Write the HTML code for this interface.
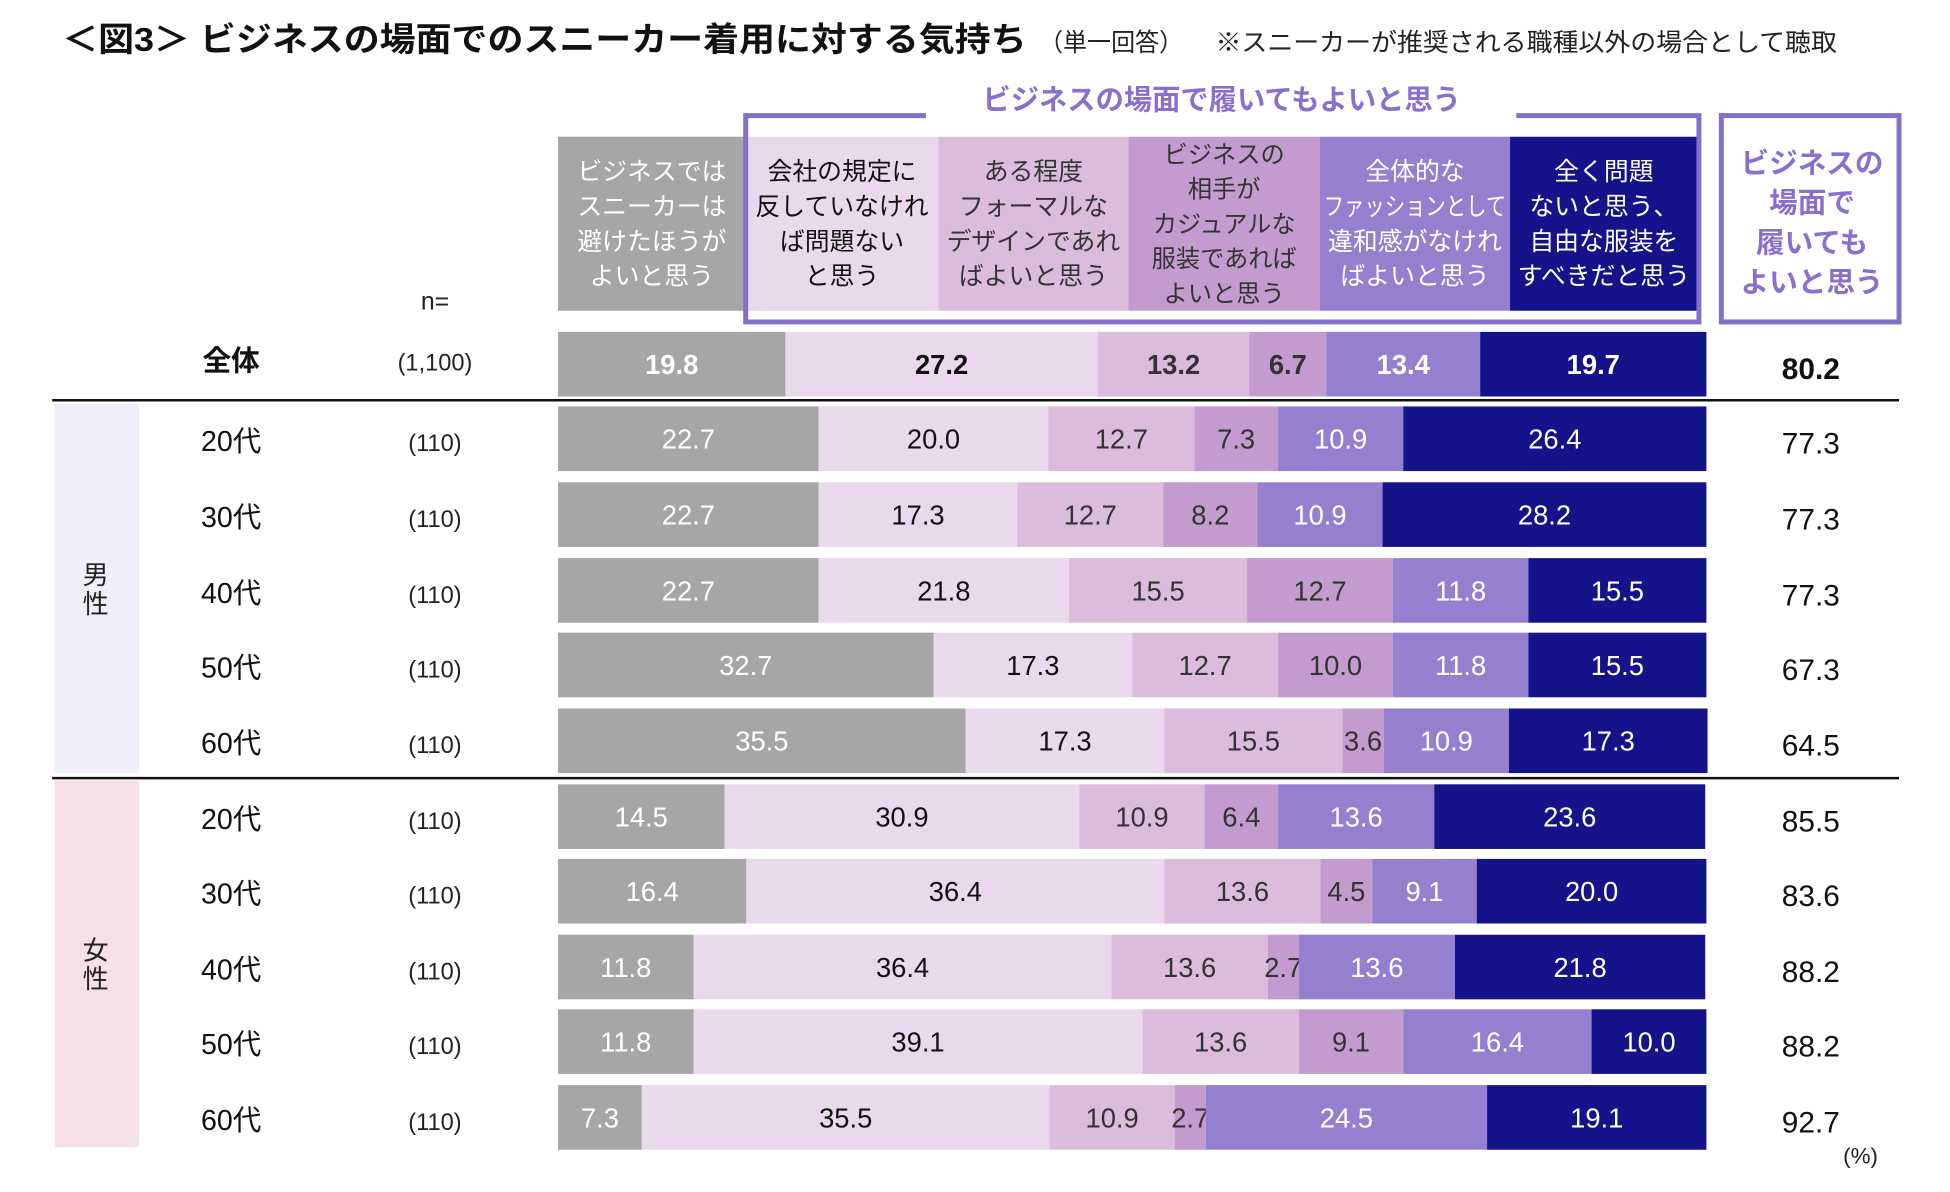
<!DOCTYPE html>
<html><head><meta charset="utf-8">
<style>
html,body{margin:0;padding:0;background:#fff;}
svg{display:block;font-family:"Liberation Sans","Noto Sans CJK JP",sans-serif;}
</style></head>
<body>
<svg id="chart" width="1950" height="1192" viewBox="0 0 1569 959" preserveAspectRatio="none" xmlns="http://www.w3.org/2000/svg">
<g>
<text x="50" y="41" font-size="27" font-weight="bold" fill="#111" textLength="776" lengthAdjust="spacingAndGlyphs">＜図3＞ ビジネスの場面でのスニーカー着用に対する気持ち</text>
<text x="836" y="41" font-size="20" fill="#222" textLength="116" lengthAdjust="spacingAndGlyphs">（単一回答）</text>
<text x="978" y="41" font-size="20" fill="#222" textLength="500" lengthAdjust="spacingAndGlyphs">※スニーカーが推奨される職種以外の場合として聴取</text>
</g>
<text x="983" y="88" font-size="23" font-weight="bold" fill="#8a6fcf" text-anchor="middle" textLength="385" lengthAdjust="spacingAndGlyphs">ビジネスの場面で履いてもよいと思う</text>
<g id="headers"></g>
<path d="M745,93 H600 V259 H1367 V93 H1220" fill="none" stroke="#8470c8" stroke-width="4"/>
<rect x="1385" y="93" width="143" height="166" fill="none" stroke="#8470c8" stroke-width="4"/>
<g font-size="23" font-weight="bold" fill="#8a6fcf" text-anchor="middle">
<text x="1458" y="139">ビジネスの</text><text x="1458" y="171">場面で</text><text x="1458" y="203">履いても</text><text x="1458" y="235">よいと思う</text>
</g>
<text x="350" y="249" font-size="20" text-anchor="middle" fill="#222">n=</text>
<rect x="44" y="325" width="68" height="297" fill="#efeffb"/>
<rect x="44" y="628" width="68" height="295" fill="#f6e1e8"/>
<g font-size="21" fill="#222" text-anchor="middle">
<text x="77" y="470">男</text><text x="77" y="493">性</text>
<text x="77" y="772">女</text><text x="77" y="795">性</text>
</g>
<line x1="42" y1="322" x2="1528" y2="322" stroke="#111" stroke-width="2"/>
<line x1="42" y1="626" x2="1528" y2="626" stroke="#111" stroke-width="2"/>
<g id="bars"></g>
<text x="1497" y="936" font-size="18" text-anchor="middle" fill="#222">(%)</text>
</svg>
<script>
const categories = ["全体","20代","30代","40代","50代","60代","20代","30代","40代","50代","60代"];
const nValues = ["(1,100)","(110)","(110)","(110)","(110)","(110)","(110)","(110)","(110)","(110)","(110)"];
const avoid = [19.8,22.7,22.7,22.7,32.7,35.5,14.5,16.4,11.8,11.8,7.3];
const noRule = [27.2,20.0,17.3,21.8,17.3,17.3,30.9,36.4,36.4,39.1,35.5];
const formal = [13.2,12.7,12.7,15.5,12.7,15.5,10.9,13.6,13.6,13.6,10.9];
const casualPartner = [6.7,7.3,8.2,12.7,10.0,3.6,6.4,4.5,2.7,9.1,2.7];
const fashion = [13.4,10.9,10.9,11.8,11.8,10.9,13.6,9.1,13.6,16.4,24.5];
const noProblem = [19.7,26.4,28.2,15.5,15.5,17.3,23.6,20.0,21.8,10.0,19.1];
const totals = [80.2,77.3,77.3,77.3,67.3,64.5,85.5,83.6,88.2,88.2,92.7];
const seriesNames = ["ビジネスではスニーカーは避けたほうがよいと思う","会社の規定に反していなければ問題ないと思う","ある程度フォーマルなデザインであればよいと思う","ビジネスの相手がカジュアルな服装であればよいと思う","全体的なファッションとして違和感がなければよいと思う","全く問題ないと思う、自由な服装をすべきだと思う"];

const NS="http://www.w3.org/2000/svg";
const series=[avoid,noRule,formal,casualPartner,fashion,noProblem];
const colors=["#a6a6a6","#ead9ec","#dbbcdd","#c39bcf","#9580d0","#15138a"];
const txtColors=["#fff","#111","#333","#333","#fff","#fff"];
const X0=449, X1=1373;
const xScale=v=>(v/100)*(X1-X0);
const rowTops=[267,327,388,449,509,570,631,691,752,812,873];
const BH=52;
function el(tag,attrs,parent){const e=document.createElementNS(NS,tag);for(const k in attrs)e.setAttribute(k,attrs[k]);parent.appendChild(e);return e;}

const hg=document.getElementById('headers');
const headerLines=[["ビジネスでは","スニーカーは","避けたほうが","よいと思う"],["会社の規定に","反していなけれ","ば問題ない","と思う"],["ある程度","フォーマルな","デザインであれ","ばよいと思う"],["ビジネスの","相手が","カジュアルな","服装であれば","よいと思う"],["全体的な","ファッションとして","違和感がなけれ","ばよいと思う"],["全く問題","ないと思う、","自由な服装を","すべきだと思う"]];
const hx=[449,600,755,908,1062,1215,1366];
for(let i=0;i<6;i++){
  const r=el('rect',{x:hx[i],y:110,width:hx[i+1]-hx[i],height:140,fill:colors[i]},hg);
  
  
  const lines=headerLines[i];const n=lines.length;const lh=28;const start=180-(n-1)*lh/2+7;
  const maxW=hx[i+1]-hx[i]-6;
  lines.forEach((ln,j)=>{const fs=n>4?19.5:20;const attrs={x:(hx[i]+hx[i+1])/2,y:start+j*lh,'font-size':fs,'text-anchor':'middle',fill:txtColors[i]};
  if(ln.length*fs>maxW){attrs.textLength=maxW;attrs.lengthAdjust='spacingAndGlyphs';}
  const t=el('text',attrs,hg);t.textContent=ln;
  
  });
}

const bg=document.getElementById('bars');
categories.forEach((cat,r)=>{
  const top=rowTops[r];const bold=r===0;
  const ly=r===0?top+31:top+36;
  const cl=el('text',{x:186,y:ly,'font-size':23,'font-weight':bold?'bold':'normal','text-anchor':'middle',fill:'#111'},bg);
  cl.textContent=cat;
  
  
  const nl=el('text',{x:350,y:ly,'font-size':19,'text-anchor':'middle',fill:'#222'},bg);
  nl.textContent=nValues[r];
  
  
  let acc=0;
  series.forEach((s,i)=>{
    const v=s[r];const x=X0+xScale(acc);const w=xScale(v);
    const rect=el('rect',{x:x,y:top,width:w,height:BH,fill:colors[i]},bg);
    
    
    const t=el('text',{x:x+w/2,y:top+BH/2+8,'font-size':22,'font-weight':bold?'bold':'normal','text-anchor':'middle',fill:txtColors[i]},bg);
    t.textContent=v.toFixed(1);
    
    
    acc+=v;
  });
  const tt=el('text',{x:1457,y:top+38,'font-size':24,'font-weight':bold?'bold':'normal','text-anchor':'middle',fill:'#111'},bg);
  tt.textContent=totals[r].toFixed(1);
  
  
});
</script>
</body></html>
